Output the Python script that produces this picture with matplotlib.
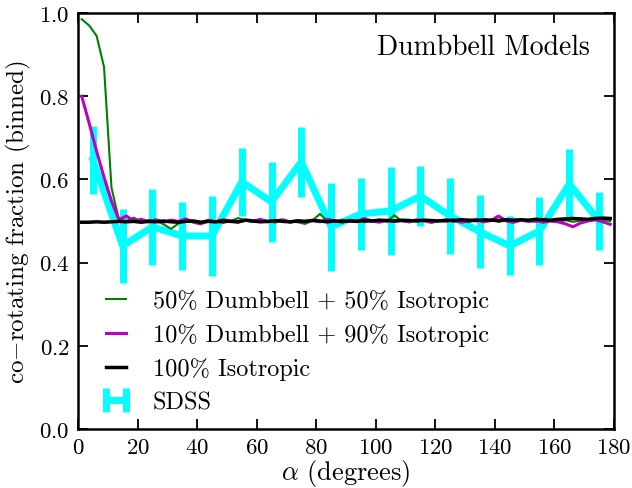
import numpy as np
import matplotlib
matplotlib.use("Agg")
import matplotlib.pyplot as plt

plt.rcParams['font.family'] = ['cmr10', 'DejaVu Serif']
plt.rcParams['mathtext.fontset'] = 'cm'
plt.rcParams['axes.formatter.use_mathtext'] = True

# model grid (bin centres, degrees)
model_x = np.arange(1.25, 180, 2.5)

dumbbell50 = [
    0.985, 0.970, 0.945, 0.870, 0.580, 0.503, 0.500, 0.508, 0.498, 0.502, 0.500, 0.492,
    0.481, 0.494, 0.503, 0.500, 0.497, 0.503, 0.499, 0.495, 0.500, 0.507, 0.502, 0.498,
    0.503, 0.500, 0.496, 0.502, 0.499, 0.497, 0.493, 0.501, 0.517, 0.500, 0.498, 0.503,
    0.499, 0.502, 0.497, 0.500, 0.503, 0.498, 0.514, 0.499, 0.497, 0.502, 0.500, 0.496,
    0.501, 0.503, 0.498, 0.500, 0.497, 0.502, 0.499, 0.503, 0.498, 0.501, 0.496, 0.502,
    0.500, 0.498, 0.503, 0.500, 0.497, 0.502, 0.498, 0.501, 0.500, 0.505, 0.503, 0.500,
]
dumbbell10 = [
    0.800, 0.735, 0.668, 0.605, 0.548, 0.503, 0.512, 0.500, 0.504, 0.498, 0.503, 0.497,
    0.502, 0.499, 0.505, 0.497, 0.493, 0.501, 0.498, 0.503, 0.500, 0.497, 0.502, 0.499,
    0.504, 0.498, 0.500, 0.503, 0.497, 0.501, 0.499, 0.502, 0.498, 0.504, 0.500, 0.497,
    0.502, 0.499, 0.506, 0.500, 0.497, 0.502, 0.499, 0.501, 0.498, 0.503, 0.500, 0.497,
    0.501, 0.499, 0.503, 0.497, 0.500, 0.504, 0.498, 0.501, 0.512, 0.500, 0.497, 0.502,
    0.499, 0.501, 0.497, 0.500, 0.498, 0.493, 0.486, 0.495, 0.500, 0.503, 0.498, 0.492,
]
isotropic = [
    0.497, 0.497, 0.498, 0.497, 0.498, 0.499, 0.498, 0.499, 0.497, 0.499, 0.498, 0.500,
    0.498, 0.497, 0.499, 0.500, 0.497, 0.499, 0.498, 0.500, 0.499, 0.498, 0.502, 0.500,
    0.498, 0.499, 0.501, 0.499, 0.498, 0.500, 0.499, 0.501, 0.500, 0.498, 0.500, 0.499,
    0.500, 0.499, 0.501, 0.500, 0.502, 0.501, 0.500, 0.502, 0.501, 0.500, 0.502, 0.501,
    0.500, 0.502, 0.501, 0.503, 0.502, 0.501, 0.503, 0.502, 0.501, 0.503, 0.502, 0.503,
    0.502, 0.504, 0.503, 0.502, 0.504, 0.505, 0.506, 0.505, 0.504, 0.506, 0.507, 0.506,
]

sdss_x = [5, 15, 25, 35, 45, 55, 65, 75, 85, 95, 105, 115, 125, 135, 145, 155, 165, 175]
sdss_y = [0.647, 0.440, 0.486, 0.464, 0.464, 0.594, 0.546, 0.642, 0.486, 0.517,
          0.524, 0.560, 0.512, 0.474, 0.440, 0.476, 0.589, 0.500]
sdss_err = [0.082, 0.089, 0.091, 0.082, 0.096, 0.081, 0.096, 0.085, 0.106, 0.087,
            0.106, 0.072, 0.091, 0.088, 0.071, 0.082, 0.085, 0.070]

labels = ['50% Dumbbell + 50% Isotropic', '10% Dumbbell + 90% Isotropic',
          '100% Isotropic', 'SDSS']

fig = plt.figure(figsize=(6.32, 4.89), dpi=100)
ax = fig.add_axes([0.1234, 0.1207, 0.848, 0.8507])

eb = ax.errorbar(sdss_x, sdss_y, yerr=sdss_err, color='#00ffff', lw=5, elinewidth=5,
                 capsize=0, zorder=1)
l1, = ax.plot(model_x, dumbbell50, color='green', lw=1.5, zorder=2)
l2, = ax.plot(model_x, dumbbell10, color='#bf00bf', lw=2.2, zorder=3)
l3, = ax.plot(model_x, isotropic, color='black', lw=2.5, zorder=4)

ax.set_xlim(0, 180)
ax.set_ylim(0, 1.0)
ax.set_xticks(np.arange(0, 181, 20))
ax.set_yticks(np.arange(0, 1.01, 0.2))
ax.tick_params(direction='in', top=True, right=True, length=7, width=1.3, labelsize=16.5, pad=6)
for s in ax.spines.values():
    s.set_linewidth(1.8)

ax.set_xlabel(r'$\alpha$ (degrees)', fontsize=19, labelpad=0)
ax.set_ylabel(r'co$-$rotating fraction (binned)', fontsize=18, labelpad=4)

ax.text(0.955, 0.95, 'Dumbbell Models', transform=ax.transAxes, ha='right', va='top',
        fontsize=20)

ax.legend([l1, l2, l3, eb], labels, loc='lower left', bbox_to_anchor=(0.01, 0.0),
          frameon=False, fontsize=17.5,
          numpoints=2, handlelength=1.4, handletextpad=0.8, labelspacing=0.45,
          borderaxespad=0.2, borderpad=0.45)

fig.savefig('out.png', dpi=100)
